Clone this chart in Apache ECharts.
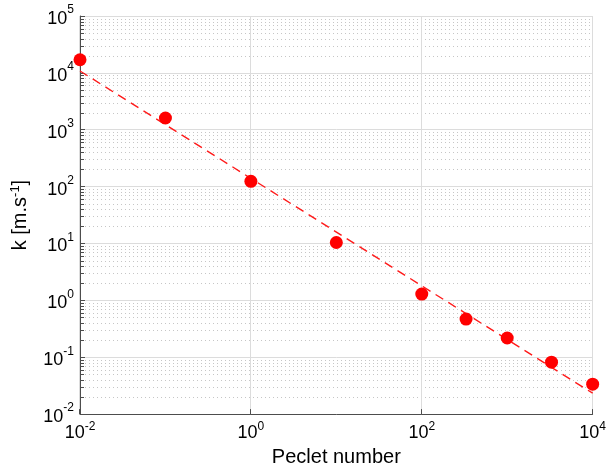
<!DOCTYPE html>
<html><head><meta charset="utf-8">
<script src="https://cdn.jsdelivr.net/npm/echarts@6/dist/echarts.min.js"></script>
<style>html,body{margin:0;padding:0;background:#fff}#c{width:609px;height:472px}</style>
</head><body><div id="c"></div>
<script>
// ---- data ----
const pecletNumbers = [0.01, 0.1, 1, 10, 100, 330, 1000, 3300, 10000];
const kValues = [17000, 1610, 124, 10.4, 1.29, 0.469, 0.218, 0.0817, 0.0336];
const fitPeclet = [0.01, 10000];
const fitK = [10800, 0.0233];
const xLabelValues = [0.01, 1, 100, 10000];
const xMin = 0.01, xMax = 10000, yMin = 0.01, yMax = 100000;
const yDecadeExps = [-2, -1, 0, 1, 2, 3, 4];
const minorMultipliers = [2, 3, 4, 5, 6, 7, 8, 9];
const xAxisTitle = 'Peclet number';
const yAxisTitle = 'k [m.s{s|-1}]';

const FONT = '"Liberation Sans", Arial, Helvetica, sans-serif';
const AXIS_COLOR = '#4d4d4d';

const minorY = [];
yDecadeExps.forEach(e => minorMultipliers.forEach(m => minorY.push(m * Math.pow(10, e))));

function expOf(v) { return Math.round(Math.log10(v)); }
function supLabel(v) { return '{b|10}{s|' + expOf(v) + '}'; }

const chart = echarts.init(document.getElementById('c'), null, {renderer: 'canvas'});

function renderMinor(params, api) {
  const p = api.coord([api.value(0), api.value(1)]);
  const cs = params.coordSys;
  const y = Math.round(p[1]) + 0.5;
  return {type: 'group', children: [
    {type: 'line', shape: {x1: cs.x + 1, y1: y, x2: cs.x + cs.width, y2: y},
     style: {stroke: '#c6c6c6', lineWidth: 1, lineDash: [1, 3]}},
    {type: 'line', shape: {x1: cs.x, y1: y, x2: cs.x + 4, y2: y},
     style: {stroke: AXIS_COLOR, lineWidth: 1}}
  ]};
}
function renderVGrid(params, api) {
  const p = api.coord([api.value(0), api.value(1)]);
  const cs = params.coordSys;
  const x = Math.round(p[0]) - 0.5;
  return {type: 'group', children: [
    {type: 'line', shape: {x1: x, y1: cs.y, x2: x, y2: cs.y + cs.height},
     style: {stroke: '#dcdcdc', lineWidth: 1}},
    {type: 'line', shape: {x1: x, y1: cs.y + cs.height, x2: x, y2: cs.y + cs.height - 5},
     style: {stroke: AXIS_COLOR, lineWidth: 1}}
  ]};
}

const option = {
  animation: false,
  backgroundColor: '#fff',
  grid: {left: 78, right: 12, top: 16, bottom: 57, containLabel: false},
  xAxis: {
    type: 'log', logBase: 10, min: xMin, max: xMax,
    axisLine: {show: true, onZero: false, lineStyle: {color: AXIS_COLOR, width: 1}},
    axisTick: {show: false},
    splitLine: {show: false},
    axisLabel: {
      margin: 6,
      formatter: v => xLabelValues.some(t => expOf(t) === expOf(v)) ? supLabel(v) : '',
      rich: {
        b: {fontSize: 18, fontFamily: FONT, color: '#000', lineHeight: 20, padding: [6, 0, 0, 0]},
        s: {fontSize: 12, fontFamily: FONT, color: '#000', lineHeight: 14, padding: [3, 0, 9, 0]}
      }
    },
    name: xAxisTitle, nameLocation: 'middle', nameGap: 30,
    nameTextStyle: {fontSize: 20, fontFamily: FONT, color: '#000'}
  },
  yAxis: {
    type: 'log', logBase: 10, min: yMin, max: yMax,
    axisLine: {show: true, onZero: false, lineStyle: {color: AXIS_COLOR, width: 1}},
    axisTick: {show: true, inside: true, length: 5, lineStyle: {color: AXIS_COLOR}},
    splitLine: {show: true, lineStyle: {color: '#dcdcdc', width: 1}},
    axisLabel: {
      margin: 6,
      formatter: v => supLabel(v),
      rich: {
        b: {fontSize: 18, fontFamily: FONT, color: '#000', lineHeight: 20, padding: [6, 0, 0, 0]},
        s: {fontSize: 12, fontFamily: FONT, color: '#000', lineHeight: 14, padding: [0, 0, 12, 0]}
      }
    },
    name: yAxisTitle, nameLocation: 'middle', nameGap: 48, nameRotate: 90,
    nameTextStyle: {
      fontSize: 20, fontFamily: FONT, color: '#000', lineHeight: 24,
      rich: {s: {fontSize: 13, fontFamily: FONT, color: '#000', lineHeight: 14, padding: [0, 0, 10, 0]}}
    }
  },
  series: [
    {type: 'custom', silent: true, z: 1, renderItem: renderMinor,
     data: minorY.map(v => [xMin, v])},
    {type: 'custom', silent: true, z: 1, renderItem: renderVGrid,
     data: xLabelValues.map(v => [v, yMin])},
    {type: 'line', z: 2, silent: true, showSymbol: false,
     data: fitPeclet.map((x, i) => [x, fitK[i]]),
     lineStyle: {color: '#ff1a1a', width: 1.4, type: [9, 6]}},
    {type: 'scatter', z: 3, symbol: 'circle', symbolSize: 13,
     itemStyle: {color: '#ff0000', opacity: 1},
     data: pecletNumbers.map((x, i) => [x, kValues[i]])}
  ]
};
chart.setOption(option);
</script>
</body></html>
